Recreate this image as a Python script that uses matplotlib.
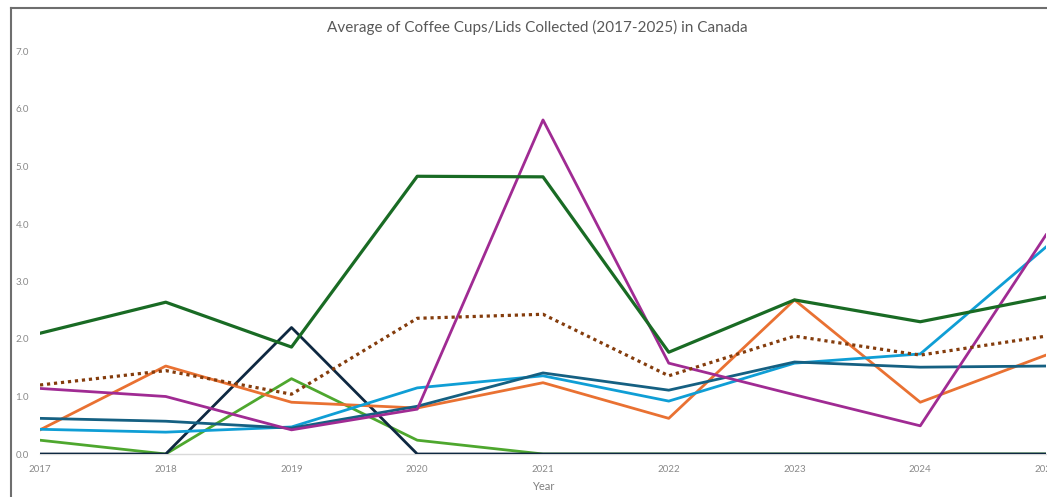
import matplotlib
matplotlib.use("Agg")
import matplotlib.pyplot as plt
from matplotlib.lines import Line2D

plt.rcParams["font.family"] = ["Lato", "DejaVu Sans"]

# Yearly averages per series
years = [2017, 2018, 2019, 2020, 2021, 2022, 2023, 2024, 2025]
dark_green = [2.10, 2.64, 1.86, 4.83, 4.82, 1.77, 2.68, 2.30, 2.73]
magenta = [1.14, 1.00, 0.42, 0.78, 5.81, 1.58, 1.03, 0.49, 3.81]
navy = [0.00, 0.00, 2.20, 0.00, 0.00, 0.00, 0.00, 0.00, 0.00]
light_green = [0.24, 0.00, 1.31, 0.24, 0.00, 0.00, 0.00, 0.00, 0.00]
orange = [0.42, 1.53, 0.90, 0.80, 1.24, 0.62, 2.68, 0.90, 1.72]
teal = [0.62, 0.57, 0.45, 0.83, 1.41, 1.11, 1.60, 1.51, 1.53]
sky = [0.43, 0.38, 0.47, 1.15, 1.36, 0.92, 1.58, 1.74, 3.60]
overall = [1.20, 1.45, 1.04, 2.36, 2.43, 1.36, 2.05, 1.72, 2.05]

fig = plt.figure(figsize=(10.47, 4.97), dpi=100)
ax = fig.add_axes([40 / 1047, 1 - 454 / 497, 1006 / 1047, 402.5 / 497])

ax.plot(years, light_green, color="#4EA72E", lw=2.0, zorder=2)
ax.plot(years, navy, color="#0E2841", lw=2.0, zorder=3)
ax.plot(years, orange, color="#E97132", lw=2.0, zorder=4)
ax.plot(years, sky, color="#0F9ED5", lw=2.0, zorder=4)
ax.plot(years, teal, color="#156082", lw=2.0, zorder=4)
ax.plot(years, magenta, color="#A02B93", lw=2.0, zorder=5)
ax.plot(years, dark_green, color="#196B24", lw=2.3, zorder=5)
ax.plot(years, overall, color="#843C0C", lw=2.3, ls=(0, (1, 1.2)), zorder=6)

ax.set_xlim(2017, 2025)
ax.set_ylim(0, 7)
ax.set_xticks(years)
ax.set_yticks(range(8))
ax.set_yticklabels([f"{v:.1f}" for v in range(8)])
ax.tick_params(axis="both", length=0, labelsize=7, colors="#8a8a8a")
ax.tick_params(axis="y", pad=8)
ax.tick_params(axis="x", pad=8)
for side in ("top", "right", "left"):
    ax.spines[side].set_visible(False)
ax.spines["bottom"].set_color("#d9d9d9")
ax.spines["bottom"].set_linewidth(1.0)
ax.set_xlabel("Year", fontsize=8, color="#7f7f7f", labelpad=5)

fig.text(537 / 1047, 1 - 27 / 497, "Average of Coffee Cups/Lids Collected (2017-2025) in Canada",
         ha="center", va="center", fontsize=11, color="#595959")

# frame lines along the top and left edges
fig.add_artist(Line2D([11 / 1047, 1], [1 - 8 / 497, 1 - 8 / 497], color="#6e6e6e", lw=1.5))
fig.add_artist(Line2D([11 / 1047, 11 / 1047], [0, 1 - 8 / 497], color="#6e6e6e", lw=1.5))

fig.savefig("out.png", dpi=100, facecolor="white")
